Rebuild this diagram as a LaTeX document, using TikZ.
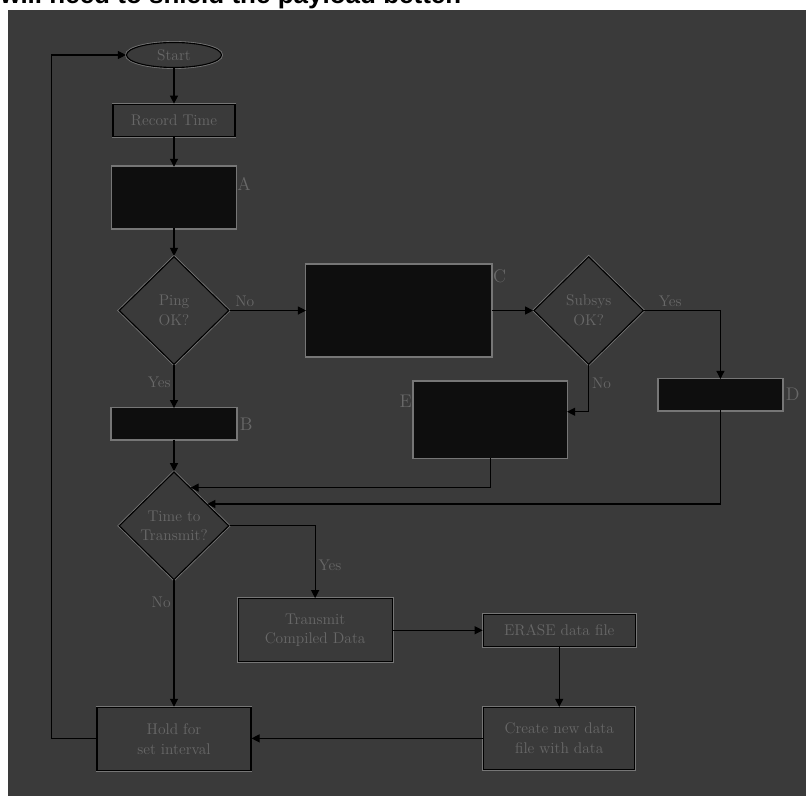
\documentclass[tikz,border=0pt]{standalone}
\usepackage{fontspec}
\newfontfamily\notefont{Liberation Sans}
\usepackage{xcolor}
\usepackage{tikz}
\usetikzlibrary{shapes.geometric,arrows.meta,positioning,calc}
\definecolor{scrbg}{RGB}{58,58,58}
\definecolor{inkgray}{RGB}{104,104,104}
\definecolor{glow}{RGB}{118,118,118}
\definecolor{boxblack}{RGB}{14,14,14}
\tikzset{
  flowbox/.style={draw=black, line width=0.8pt, preaction={draw=glow, line width=2pt}, fill=scrbg, align=center, inner sep=2pt, text=inkgray},
  blackbox/.style={fill=boxblack, preaction={draw=glow, line width=2.4pt}, inner sep=0pt},
  decision/.style={diamond, draw=black, line width=0.8pt, preaction={draw=glow, line width=2pt}, fill=scrbg, align=center, inner sep=0pt, minimum width=2.75cm, minimum height=2.7cm, text=inkgray},
  flowarrow/.style={-{Triangle[length=2mm,width=2mm]}, line width=0.8pt, draw=black},
  lbl/.style={text=inkgray, font=\fontsize{11}{13}\selectfont, inner sep=2pt},
  boxletter/.style={text=inkgray, font=\fontsize{13}{15}\selectfont, inner sep=1pt},
}

\begin{document}
\begin{tikzpicture}[font=\fontsize{11}{14}\selectfont]
  % screen and page strip
  \fill[white] (-4.35cm,1.375cm) rectangle (15.8cm,-18.525cm);
  \fill[scrbg] (-4.15cm,1.125cm) rectangle (15.8cm,-18.525cm);
  \useasboundingbox (-4.35cm,1.375cm) rectangle (15.8cm,-18.525cm);
  \node[anchor=base west, inner sep=0pt, font=\notefont\bfseries\fontsize{18.5}{20}\selectfont] (note) at (-4.35cm,1.28cm) {will need to shield the payload better.};

  % Main column
  \node[flowbox, ellipse, minimum width=2.375cm, minimum height=0.625cm, inner sep=0pt] (start) at (0,0) {Start};
  \node[flowbox, below=0.89cm of start, minimum width=3.05cm, minimum height=0.8cm] (rec) {Record Time};
  \node[blackbox, below=0.75cm of rec, minimum width=3.075cm, minimum height=1.525cm] (a) {};
  \node[decision, below=0.69cm of a] (ping) {Ping\\OK?};
  \node[blackbox, below=1.075cm of ping, minimum width=3.1cm, minimum height=0.775cm] (b) {};
  \node[decision, below=0.79cm of b] (time) {Time to\\Transmit?};
  \node[flowbox, below=3.16cm of time, minimum width=3.85cm, minimum height=1.575cm] (hold) {Hold for\\set interval};

  % Fault branch
  \node[blackbox, right=1.91cm of ping, minimum width=4.625cm, minimum height=2.275cm] (c) {};
  \node[decision, right=1.04cm of c] (subsys) {Subsys\\OK?};
  \node[blackbox, below right=1.71cm and 0.36cm of subsys.east, minimum width=3.075cm, minimum height=0.775cm] (d) {};
  \node[blackbox, below left=0.41cm and 0.54cm of subsys.south, minimum width=3.825cm, minimum height=1.9cm] (e) {};

  % Transmit branch
  \node[flowbox, below right=1.81cm and 0.2cm of time.east, minimum width=3.85cm, minimum height=1.575cm] (trans) {Transmit\\Compiled Data};
  \node[flowbox, right=2.25cm of trans, minimum width=3.8cm, minimum height=0.8cm] (erase) {ERASE data file};
  \node[flowbox, below=1.5cm of erase, minimum width=3.775cm, minimum height=1.55cm] (create) {Create new data\\file with data};

  % Box letters
  \node[boxletter, anchor=west] (labA) at ([yshift=0.35cm]a.east) {A};
  \node[boxletter, right=0.05cm of b] (labB) {B};
  \node[boxletter, anchor=west] (labC) at ([yshift=0.85cm]c.east) {C};
  \node[boxletter, right=0.05cm of d] (labD) {D};
  \node[boxletter, anchor=east] (labE) at ([yshift=0.47cm]e.west) {E};

  \coordinate (inE) at ($(time.north)!0.3!(time.east)$);
  \coordinate (inD) at ($(time.north)!0.6!(time.east)$);
  \coordinate (loop) at ($(hold.west)+(-1.125cm,0)$);

  \draw[flowarrow] (start) -- (rec);
  \draw[flowarrow] (rec) -- (a);
  \draw[flowarrow] (a) -- (ping);
  \draw[flowarrow] (ping) -- node[lbl, pos=0.4, left] {Yes} (b);
  \draw[flowarrow] (ping) -- node[lbl, pos=0.2, above] {No} (c);
  \draw[flowarrow] (c) -- (subsys);
  \draw[flowarrow] (subsys.east) -| node[lbl, pos=0.17, above] {Yes} (d.north);
  \draw[flowarrow] (subsys.south) |- node[lbl, pos=0.2, right] {No} ([yshift=0.2cm]e.east);
  \draw[flowarrow] (b) -- (time);
  \draw[flowarrow] (e.south) |- (inE);
  \draw[flowarrow] (d.south) |- (inD);
  \draw[flowarrow] (time.east) -| node[lbl, pos=0.77, right] {Yes} (trans.north);
  \draw[flowarrow] (time) -- node[lbl, pos=0.17, left] {No} (hold);
  \draw[flowarrow] (trans) -- (erase);
  \draw[flowarrow] (erase) -- (create);
  \draw[flowarrow] (create.west) -- (create.west -| hold.east);
  \draw[flowarrow] (hold.west) -- (loop) |- (start.west);
\end{tikzpicture}
\end{document}
